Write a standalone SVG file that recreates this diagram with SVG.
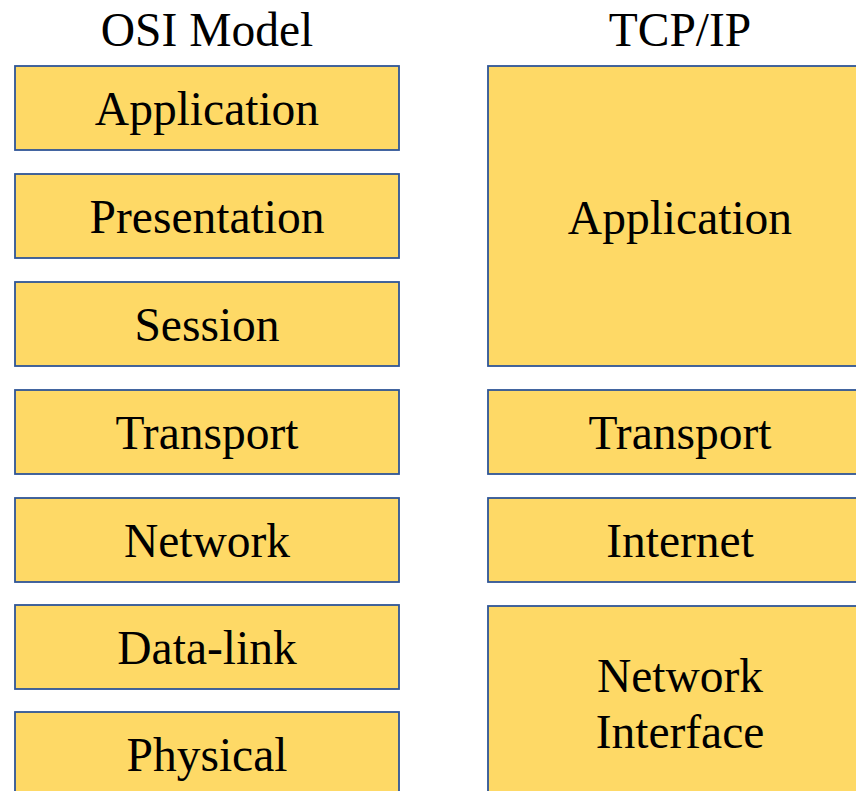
<svg xmlns="http://www.w3.org/2000/svg" width="856" height="791" viewBox="0 0 856 791">
<style>
.box{fill:#FED966;stroke:#2F5597;stroke-width:1.8}
.t{font-family:"Liberation Serif","Times New Roman",serif;font-size:47.5px;fill:#000;text-anchor:middle}
</style>
<rect width="856" height="791" fill="#fff"/>
<g id="titles">
<text class="t" x="207" y="46">OSI Model</text>
<text class="t" x="680" y="46">TCP/IP</text>
</g>
<g id="osi-application"><rect class="box" x="15" y="66" width="384" height="84"/><text class="t" x="207" y="125">Application</text></g>
<g id="osi-presentation"><rect class="box" x="15" y="174" width="384" height="84"/><text class="t" x="207" y="233">Presentation</text></g>
<g id="osi-session"><rect class="box" x="15" y="282" width="384" height="84"/><text class="t" x="207" y="341">Session</text></g>
<g id="osi-transport"><rect class="box" x="15" y="390" width="384" height="84"/><text class="t" x="207" y="449">Transport</text></g>
<g id="osi-network"><rect class="box" x="15" y="498" width="384" height="84"/><text class="t" x="207" y="557">Network</text></g>
<g id="osi-datalink"><rect class="box" x="15" y="605" width="384" height="84"/><text class="t" x="207" y="664">Data-link</text></g>
<g id="osi-physical"><rect class="box" x="15" y="712" width="384" height="84"/><text class="t" x="207" y="771">Physical</text></g>
<g id="tcp-application"><rect class="box" x="488" y="66" width="384" height="300"/><text class="t" x="680" y="234">Application</text></g>
<g id="tcp-transport"><rect class="box" x="488" y="390" width="384" height="84"/><text class="t" x="680" y="449">Transport</text></g>
<g id="tcp-internet"><rect class="box" x="488" y="498" width="384" height="84"/><text class="t" x="680" y="557">Internet</text></g>
<g id="tcp-netif"><rect class="box" x="488" y="606" width="384" height="200"/><text class="t" x="680" y="692">Network</text><text class="t" x="680" y="748">Interface</text></g>
<g id="connectors"/>
</svg>
